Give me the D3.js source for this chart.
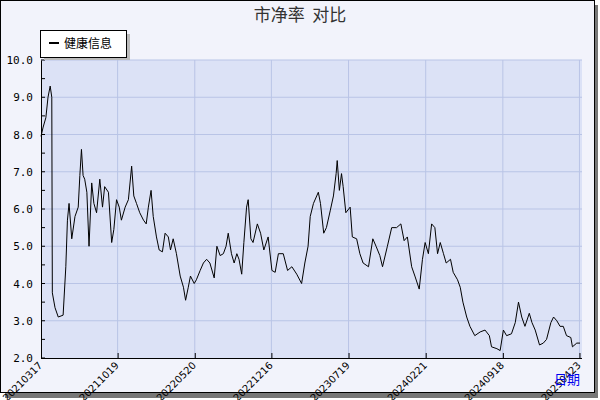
<!DOCTYPE html>
<html><head><meta charset="utf-8">
<script src="https://cdn.jsdelivr.net/npm/d3@7"></script>
<style>body{margin:0;background:#fff}svg{display:block}</style>
</head><body>
<svg id="c" width="600" height="400"></svg>
<script>
const title = "市净率  对比";
const seriesName = "健康信息";
const xTickDays = [0,142,285,427,570,713,856,998];
const xTickLabels = ["20210317","20211019","20220520","20221216","20230719","20240221","20240918","20250423"];
const yTicks = [2,3,4,5,6,7,8,9,10];
const days = [0,4,9,13,17,20,21,26,32,41,46,49,52,57,63,69,72,75,78,81,85,89,94,98,103,109,114,118,125,131,135,140,145,149,156,162,168,172,177,183,190,195,199,204,208,214,219,225,230,236,240,245,251,258,264,268,273,277,284,288,295,301,307,313,321,326,332,338,343,347,353,358,363,367,372,376,381,384,389,393,401,407,413,421,428,434,440,449,457,465,474,483,489,495,499,505,511,514,518,524,529,536,542,547,549,553,557,560,565,573,577,585,591,597,607,615,621,628,633,642,650,659,667,673,679,687,693,701,707,712,718,724,730,735,740,746,751,759,764,772,777,782,789,795,804,814,823,831,835,845,851,857,863,872,879,885,891,897,905,910,916,924,931,937,945,950,956,962,968,974,982,985,993,999];
const values = [7.95,8.2,8.45,9.0,9.3,9.0,3.75,3.35,3.1,3.15,4.45,5.7,6.15,5.2,5.8,6.05,6.9,7.6,6.9,6.8,6.45,5.0,6.7,6.15,5.9,6.8,6.05,6.6,6.45,5.1,5.45,6.25,6.05,5.7,6.05,6.25,7.15,6.35,6.15,5.9,5.7,5.6,6.05,6.5,5.8,5.25,4.9,4.85,5.35,5.25,4.9,5.2,4.8,4.2,3.9,3.55,3.9,4.2,4.0,4.1,4.35,4.55,4.65,4.55,4.15,5.0,4.75,4.8,5.0,5.35,4.8,4.55,4.8,4.65,4.25,5.1,6.05,6.25,5.2,5.1,5.6,5.35,4.9,5.25,4.35,4.3,4.8,4.8,4.35,4.45,4.25,4.0,4.55,5.0,5.8,6.15,6.35,6.45,6.15,5.35,5.5,5.95,6.35,6.95,7.3,6.5,6.95,6.6,5.9,6.05,5.25,5.2,4.8,4.55,4.45,5.2,5.0,4.75,4.45,5.0,5.5,5.5,5.6,5.15,5.25,4.45,4.2,3.85,4.65,5.1,4.8,5.6,5.5,4.8,5.1,4.8,4.55,4.65,4.3,4.1,3.9,3.5,3.1,2.85,2.6,2.7,2.75,2.6,2.3,2.25,2.2,2.75,2.6,2.65,2.95,3.5,3.1,2.85,3.2,2.95,2.75,2.35,2.4,2.5,2.95,3.1,3.0,2.85,2.85,2.6,2.55,2.3,2.4,2.4];

const svg = d3.select("#c");
const L=41,R=580,T=60,B=358;
svg.append("rect").attr("x",5).attr("y",5).attr("width",593).attr("height",393).attr("fill","#777");
svg.append("rect").attr("x",0.5).attr("y",0.5).attr("width",594).attr("height",392).attr("fill","#f2f3fb").attr("stroke","#000");
svg.append("rect").attr("x",L).attr("y",T).attr("width",R-L+2).attr("height",B-T).attr("fill","#dce2f6");

const x = d3.scaleLinear().domain([0,999]).range([L,R]);
const y = d3.scaleLinear().domain([2,10]).range([B,T]);

const g = svg.append("g");
g.selectAll("line.h").data(yTicks.slice(1)).join("line")
 .attr("x1",L).attr("x2",R+2).attr("y1",d=>y(d)).attr("y2",d=>y(d)).attr("stroke","#b9c4e6");
g.selectAll("line.v").data(xTickDays.slice(1)).join("line")
 .attr("y1",T).attr("y2",B).attr("x1",d=>x(d)).attr("x2",d=>x(d)).attr("stroke","#b9c4e6");

const ya = d3.axisLeft(y).tickValues(d3.range(2,10.01,0.5)).tickSize(0).tickFormat("");
svg.append("g").attr("transform",`translate(${L},0)`).call(ya).call(s=>s.select(".domain").attr("stroke","#000"));
svg.append("g").selectAll("line").data(d3.range(2,10.01,0.5)).join("line")
 .attr("x1",L).attr("x2",L+4).attr("y1",d=>y(d)).attr("y2",d=>y(d)).attr("stroke","#000");
svg.append("g").selectAll("text").data(yTicks).join("text")
 .attr("x",33).attr("y",d=>y(d)+4).attr("text-anchor","end")
 .attr("font-family","DejaVu Sans Mono").attr("font-size",11).text(d=>d.toFixed(1));

const xa = d3.axisBottom(x).tickValues(xTickDays).tickSize(-5).tickFormat("");
svg.append("g").attr("transform",`translate(0,${B})`).call(xa)
 .call(s=>{s.select(".domain").attr("stroke","#000").attr("d",`M${L},0.5H${R+2}`);s.selectAll(".tick line").attr("stroke","#000");});
svg.append("g").selectAll("text").data(xTickDays).join("text")
 .attr("transform",(d)=>`translate(${x(d)+2},${B+8}) rotate(-45)`)
 .attr("text-anchor","end").attr("font-family","DejaVu Sans").attr("font-size",10)
 .text((d,i)=>xTickLabels[i]);
svg.append("text").attr("x",580).attr("y",384).attr("text-anchor","end").attr("fill","#0000ee")
 .attr("font-family","Noto Sans CJK SC").attr("font-size",13).text("日期");

const line = d3.line().x((d,i)=>x(days[i])).y(d=>y(d));
svg.append("path").datum(values).attr("d",line).attr("fill","none").attr("stroke","#000").attr("stroke-width",1);

svg.append("text").attr("x",300).attr("y",21).attr("text-anchor","middle").style("white-space","pre")
 .attr("font-family","Noto Sans CJK SC").attr("font-size",17).attr("fill","#333").text(title);

svg.append("rect").attr("x",44).attr("y",34).attr("width",86).attr("height",26).attr("fill","#bbb");
svg.append("rect").attr("x",40.5).attr("y",30.5).attr("width",86).attr("height",27).attr("fill","#fff").attr("stroke","#000");
svg.append("line").attr("x1",49).attr("x2",59).attr("y1",43).attr("y2",43).attr("stroke","#000").attr("stroke-width",2);
svg.append("text").attr("x",64).attr("y",47.5).attr("font-family","Noto Sans CJK SC").attr("font-size",12).text(seriesName);
</script>
</body></html>
